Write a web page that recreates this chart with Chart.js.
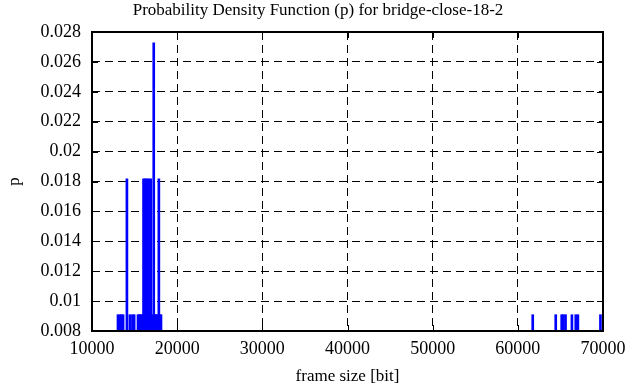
<!DOCTYPE html>
<html>
<head>
<meta charset="utf-8">
<script src="https://cdn.jsdelivr.net/npm/chart.js@4/dist/chart.umd.min.js"></script>
<style>
  html, body { margin: 0; padding: 0; background: #fff; }
</style>
</head>
<body>
<canvas id="pdfChart" width="636" height="387"></canvas>
<script>
// frame sizes [bit] and their probabilities
var frameSizes = [13050, 13250, 13450, 13650, 14100, 14450, 14750, 14950,
                  15400, 15550, 15700, 15850, 16050, 16250, 16450, 16650, 16750,
                  16900, 17050, 17250, 17400, 17550, 17700, 17850, 17950, 18100,
                  61750, 64450, 65150, 65350, 65600, 66350, 66800, 67050, 69700];
var probs = [0.00909, 0.00909, 0.00909, 0.00909, 0.01818, 0.00909, 0.00909, 0.00909,
             0.00909, 0.00909, 0.00909, 0.00909, 0.01818, 0.01818, 0.01818, 0.01818, 0.00909,
             0.01818, 0.00909, 0.02727, 0.00909, 0.00909, 0.00909, 0.01818, 0.00909, 0.00909,
             0.00909, 0.00909, 0.00909, 0.00909, 0.00909, 0.00909, 0.00909, 0.00909, 0.00909];
var xTicks = [10000, 20000, 30000, 40000, 50000, 60000, 70000];
var yTicks = [0.008, 0.01, 0.012, 0.014, 0.016, 0.018, 0.02, 0.022, 0.024, 0.026, 0.028];
var titleText = "Probability Density Function (p) for bridge-close-18-2";

var serif = "'Liberation Serif', 'DejaVu Serif', serif";
Chart.defaults.font.family = serif;
Chart.defaults.font.size = 18;
Chart.defaults.color = "#000";

// gnuplot style border, inward ticks and the title
var frame = {
    id: "frame",
    afterDraw: function(chart) {
        var ctx = chart.ctx, a = chart.chartArea;
        var xs = chart.scales.x, ys = chart.scales.y;
        ctx.save();
        ctx.strokeStyle = "#000";
        ctx.lineWidth = 1;
        ctx.beginPath();
        xTicks.forEach(function(v) {
            var px = Math.round(xs.getPixelForValue(v)) + 0.5;
            ctx.moveTo(px, a.bottom); ctx.lineTo(px, a.bottom - 6);
            ctx.moveTo(px, a.top); ctx.lineTo(px, a.top + 6);
        });
        yTicks.forEach(function(v) {
            var py = Math.round(ys.getPixelForValue(v)) + 0.5;
            ctx.moveTo(a.left, py); ctx.lineTo(a.left + 6, py);
            ctx.moveTo(a.right, py); ctx.lineTo(a.right - 6, py);
        });
        ctx.stroke();
        ctx.lineWidth = 2;
        ctx.strokeRect(a.left, a.top, a.right - a.left, a.bottom - a.top);
        ctx.fillStyle = "#000";
        ctx.font = "17px " + serif;
        ctx.textAlign = "center";
        ctx.textBaseline = "middle";
        ctx.fillText(titleText, chart.width / 2, 11);
        ctx.restore();
    }
};

var points = frameSizes.map(function(x, i) { return {x: x, y: probs[i]}; });

new Chart(document.getElementById("pdfChart"), {
    type: "bar",
    data: {
        datasets: [{
            data: points,
            backgroundColor: "#0000ff",
            borderWidth: 0,
            barThickness: 2
        }]
    },
    options: {
        responsive: false,
        animation: false,
        layout: { padding: { top: 32, right: 33, left: 0, bottom: 0 } },
        plugins: {
            legend: { display: false },
            tooltip: { enabled: false }
        },
        scales: {
            x: {
                type: "linear",
                min: 10000,
                max: 70000,
                offset: false,
                afterFit: function(s) { s.height = 56; },
                afterBuildTicks: function(s) { s.ticks = xTicks.map(function(v) { return {value: v}; }); },
                ticks: {
                    padding: 7,
                    maxRotation: 0,
                    callback: function(v) { return String(v); }
                },
                grid: { color: "#000", lineWidth: 1, drawTicks: false, offset: false },
                border: { display: false, dash: [8, 5] },
                title: { display: true, text: "frame size [bit]", font: { size: 17 }, padding: { top: 0, bottom: 0 } }
            },
            y: {
                min: 0.008,
                max: 0.028,
                afterFit: function(s) { s.width = 92; },
                afterBuildTicks: function(s) { s.ticks = yTicks.map(function(v) { return {value: v}; }); },
                ticks: {
                    padding: 11,
                    callback: function(v) { return String(+v.toFixed(3)); }
                },
                grid: { color: "#000", lineWidth: 1, drawTicks: false },
                border: { display: false, dash: [8, 5] },
                title: { display: true, text: "p", font: { size: 17 }, padding: { top: 4, bottom: 0 } }
            }
        }
    },
    plugins: [frame]
});
</script>
</body>
</html>
